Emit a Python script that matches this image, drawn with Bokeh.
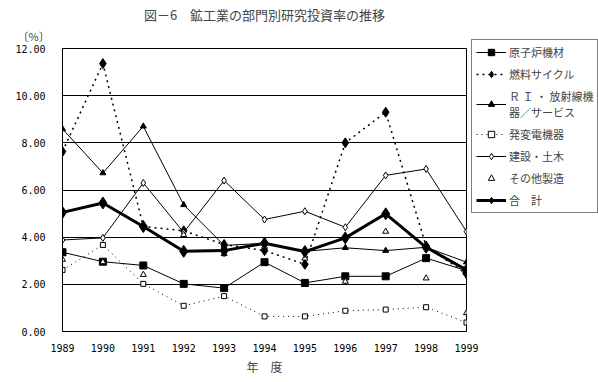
from bokeh.plotting import figure
from bokeh.models import (Range1d, FixedTicker, Legend, LegendItem, Title,
                          NumeralTickFormatter)
from bokeh.embed import file_html
from bokeh.resources import INLINE

years = [1989, 1990, 1991, 1992, 1993, 1994, 1995, 1996, 1997, 1998, 1999]
year_labels = [str(y) for y in years]
y_ticks = [0, 2, 4, 6, 8, 10, 12]

nuclear = [3.36, 2.96, 2.80, 2.02, 1.84, 2.94, 2.06, 2.34, 2.34, 3.11, 2.58]
fuel = [7.63, 11.36, 4.45, 4.27, 3.69, 3.43, 2.85, 8.00, 9.30, 3.62, 2.44]
ri = [8.59, 6.72, 8.70, 5.37, 3.65, 3.74, 3.40, 3.55, 3.43, 3.57, 2.94]
power = [2.61, 3.67, 2.02, 1.09, 1.50, 0.64, 0.64, 0.88, 0.93, 1.03, 0.38]
construction = [3.88, 3.97, 6.30, 4.20, 6.40, 4.75, 5.10, 4.42, 6.62, 6.89, 4.24]
other = [3.05, 2.95, 2.41, 4.10, 3.29, 3.60, 3.10, 2.12, 4.24, 2.26, 0.79]
total = [5.05, 5.45, 4.45, 3.40, 3.43, 3.74, 3.39, 3.97, 4.99, 3.57, 2.61]

names = ["原子炉機材", "燃料サイクル", "Ｒ Ｉ ・ 放射線機\n器／サービス", "発変電機器",
         "建設・土木", "その他製造", "合　計"]

FONT = "Noto Sans CJK JP"
MONO = "DejaVu Sans Mono"

p = figure(frame_width=404, frame_height=283, output_backend="svg",
           toolbar_location=None,
           x_range=Range1d(1989, 1999), y_range=Range1d(0, 12),
           min_border_left=62, min_border_right=132, min_border_top=48,
           min_border_bottom=51, background_fill_color="white",
           border_fill_color="white", title_location=None)
p.outline_line_color = "black"
p.outline_line_width = 1
p.xgrid.grid_line_color = None
p.ygrid.grid_line_color = "black"
p.ygrid.grid_line_alpha = 1
p.ygrid.ticker = FixedTicker(ticks=y_ticks)

p.xaxis.ticker = FixedTicker(ticks=years)
p.xaxis.major_label_overrides = {y: s for y, s in zip(years, year_labels)}
p.yaxis.ticker = FixedTicker(ticks=y_ticks)
p.yaxis.formatter = NumeralTickFormatter(format="0.00")
for ax in (p.xaxis, p.yaxis):
    ax.major_tick_in = 0
    ax.major_tick_out = 0
    ax.minor_tick_in = 0
    ax.minor_tick_out = 0
    ax.axis_line_color = "black"
    ax.major_label_text_font = MONO
    ax.major_label_text_font_size = "10px"
    ax.major_label_text_color = "black"
p.yaxis.major_label_standoff = 17
p.xaxis.major_label_standoff = 12
p.xaxis.axis_label = "年　度"
p.xaxis.axis_label_text_font = FONT
p.xaxis.axis_label_text_font_size = "12px"
p.xaxis.axis_label_text_font_style = "normal"
p.xaxis.axis_label_standoff = 3

# series
r_nuc_l = p.line(years, nuclear, line_color="black", line_width=1)
r_nuc_m = p.scatter(years, nuclear, marker="square", size=7, fill_color="black", line_color="black")
r_fuel_l = p.line(years, fuel, line_color="black", line_width=1.5, line_dash="2 4")
r_fuel_m = p.scatter(years, fuel, marker="diamond", size=10, fill_color="black", line_color="black")
r_ri_l = p.line(years, ri, line_color="black", line_width=1)
r_ri_m = p.scatter(years, ri, marker="triangle", size=6, fill_color="black", line_color="black")
r_pow_l = p.line(years, power, line_color="black", line_width=1, line_dash="1 4")
r_pow_m = p.scatter(years, power, marker="square", size=5, fill_color="white", line_color="black")
r_con_l = p.line(years, construction, line_color="black", line_width=1)
r_con_m = p.scatter(years, construction, marker="diamond", size=7, fill_color="white", line_color="black")
r_oth_m = p.scatter(years, other, marker="triangle", size=6, fill_color="white", line_color="black")
r_tot_l = p.line(years, total, line_color="black", line_width=3)
r_tot_m = p.scatter(years, total, marker="diamond", size=12, fill_color="black", line_color="black")

items = [
    LegendItem(label=names[0], renderers=[r_nuc_l, r_nuc_m]),
    LegendItem(label=names[1], renderers=[r_fuel_l, r_fuel_m]),
    LegendItem(label=names[2], renderers=[r_ri_l, r_ri_m]),
    LegendItem(label=names[3], renderers=[r_pow_l, r_pow_m]),
    LegendItem(label=names[4], renderers=[r_con_l, r_con_m]),
    LegendItem(label=names[5], renderers=[r_oth_m]),
    LegendItem(label=names[6], renderers=[r_tot_l, r_tot_m]),
]
legend = Legend(items=items, location=(5, 118), border_line_color="black",
                border_line_width=1, background_fill_color="white",
                label_text_font=FONT, label_text_font_size="11px",
                glyph_width=30, glyph_height=16, label_standoff=3,
                spacing=6, padding=4, margin=0, label_height=16)
p.add_layout(legend, "right")

p.add_layout(Title(text="〔%〕", text_font=FONT, text_font_size="11px",
                   text_font_style="normal", align="left", offset=-45,
                   standoff=10), "above")
p.add_layout(Title(text="図－6　鉱工業の部門別研究投資率の推移", text_font=FONT,
                   text_font_size="13px", text_font_style="normal",
                   align="center", offset=-4, standoff=-7), "above")

open("out.html", "w").write(file_html(p, INLINE))
